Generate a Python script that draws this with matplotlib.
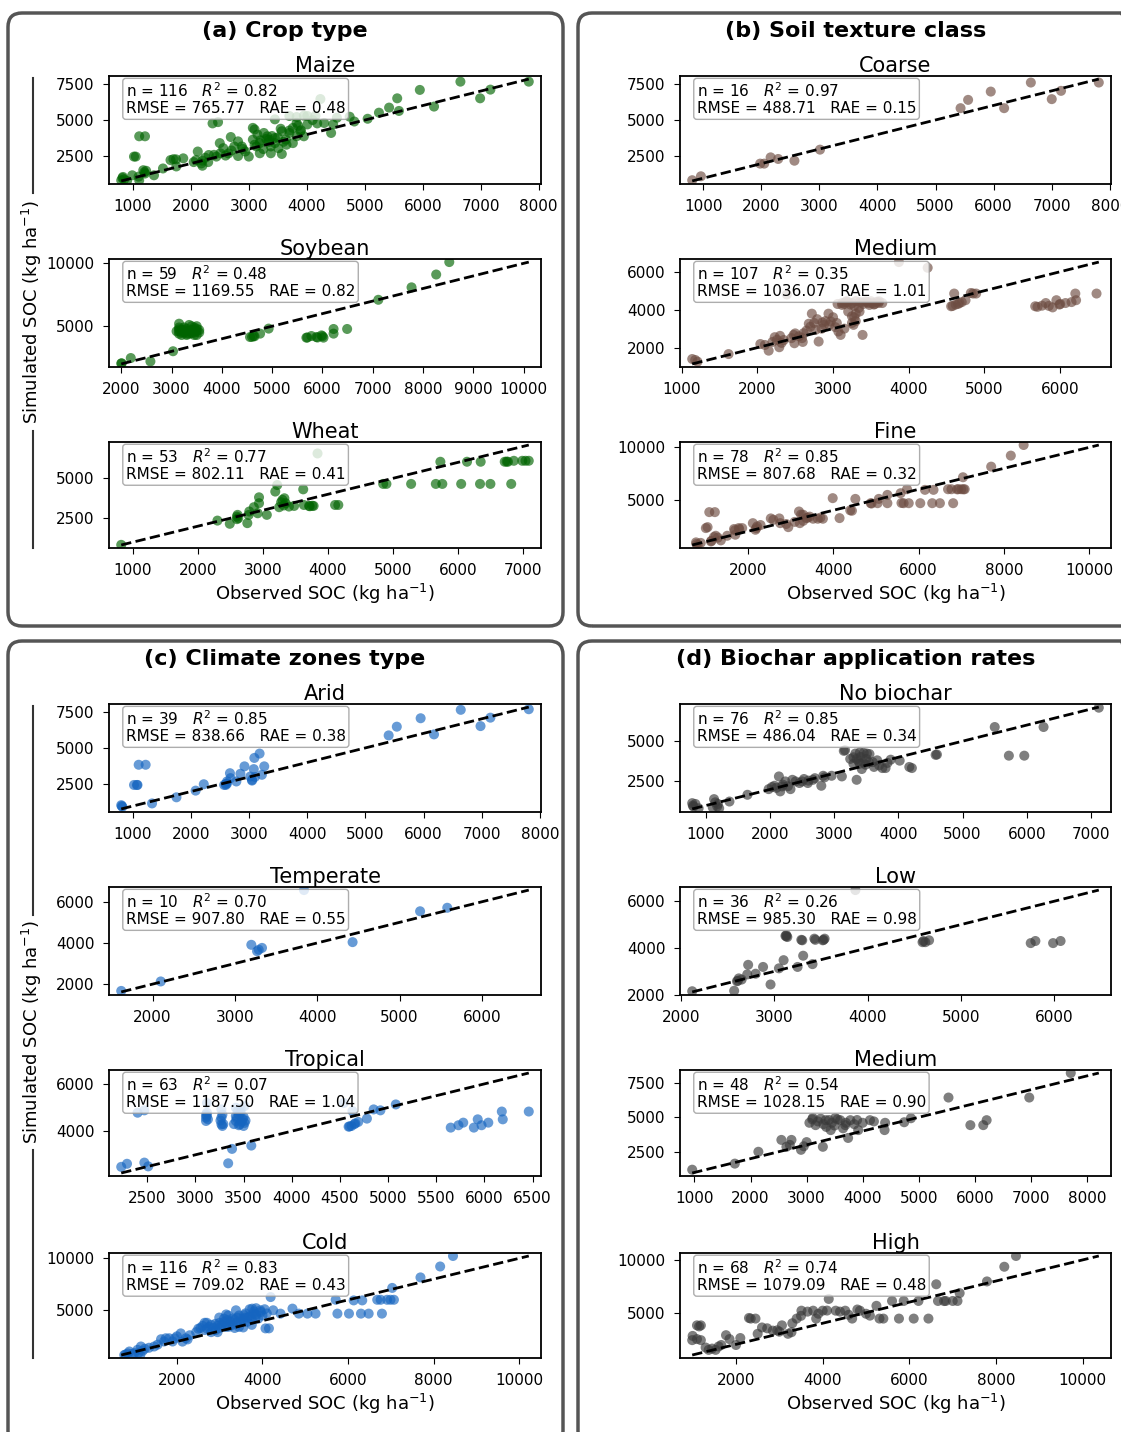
import numpy as np
import matplotlib.pyplot as plt
from matplotlib.patches import FancyBboxPatch
from matplotlib.lines import Line2D
from matplotlib.transforms import IdentityTransform

# observed vs simulated SOC (kg/ha) for each group, as (observed, simulated)
maize = [(800, 840), (820, 1000), (830, 1075), (850, 900), (990, 1190), (1020, 2480), (1050, 2480),
         (1110, 840), (1110, 3880), (1180, 1540), (1210, 1310), (1210, 3880), (1230, 1500), (1365, 1190),
         (1520, 1660), (1650, 2240), (1700, 2300), (1745, 2290), (1870, 2360), (2090, 2240), (2120, 2830),
         (2180, 2010), (2200, 1850), (2250, 2400), (2310, 2590), (2375, 4770), (2440, 2480), (2470, 4860),
         (2500, 3410), (2510, 2710), (2560, 3060), (2600, 2550), (2690, 3830), (2750, 3180), (2815, 3530),
         (2815, 2520), (2880, 3180), (2940, 2830), (3000, 2480), (3070, 4460), (3100, 4350), (3070, 3650),
         (3130, 3180), (3190, 2710), (3190, 3410), (3260, 4110), (3320, 3880), (3350, 3650), (3380, 3180),
         (3380, 2710), (3450, 3410), (3450, 3760), (3450, 5050), (3510, 3060), (3570, 4230), (3570, 2660),
         (3640, 3650), (3700, 4110), (3700, 4280), (3700, 5280), (3760, 3410), (3760, 4460), (3825, 3880),
         (3825, 5210), (3825, 4810), (3890, 4230), (3950, 3880), (4010, 4700), (4010, 5280), (4180, 4770),
         (4235, 6450), (4420, 4110), (4455, 4700), (4520, 5160), (4740, 5230), (4820, 4900), (5050, 5090),
         (5245, 5510), (5420, 5860), (5560, 6500), (5590, 5630), (5950, 7080), (6195, 5930), (6650, 7650),
         (6990, 6500), (7167, 7100), (7829, 7650), (3300, 3700), (3350, 3500), (3400, 3900), (3200, 3600),
         (3600, 3500), (2900, 3000), (3100, 3300), (3250, 3000), (3500, 3800), (3650, 3300), (2650, 2700),
         (2300, 2100), (2200, 2200), (1750, 1800), (1100, 1100), (900, 800), (1200, 1400), (3550, 4400),
         (3900, 4300), (3150, 4000), (2050, 2100), (2400, 2600), (2700, 2900), (4100, 5000), (4300, 4800),
         (3950, 5300), (4150, 5300), (3850, 4600)]

soybean = [(2000, 2040), (2190, 2470), (2580, 2200), (3030, 3010), (3150, 5200), (3150, 4900), (3150, 4600),
           (3150, 4400), (3200, 4700), (3250, 4500), (3300, 4800), (3300, 4300), (3350, 4600), (3400, 4700),
           (3450, 4500), (3450, 4900), (3500, 5000), (3500, 4600), (3500, 4300), (3550, 4700), (3200, 4300),
           (3250, 4900), (3350, 4400), (3400, 5000), (3100, 4600), (3300, 4600), (3450, 4300), (3550, 4500),
           (3250, 4700), (3400, 4450), (3150, 4750), (3500, 4800), (4560, 4140), (4630, 4220), (4760, 4410),
           (4930, 4810), (5680, 4090), (5780, 4220), (5880, 4140), (5980, 4270), (6020, 4090), (6220, 4410),
           (6220, 4780), (6490, 4780), (7110, 7100), (7770, 8090), (8260, 9110), (8520, 10100), (4600, 4150),
           (4650, 4200), (5700, 4100), (5900, 4100), (6000, 4200), (3200, 4500), (3350, 5100), (3450, 4700),
           (2010, 2050), (3300, 4400), (3400, 4600)]

wheat = [(820, 830), (2300, 2350), (2490, 2150), (2600, 2440), (2600, 2600), (2610, 2710), (2760, 2190),
         (2790, 2920), (2860, 3190), (2940, 3440), (2940, 3810), (2920, 2810), (3060, 2710), (3190, 4170),
         (3220, 4580), (3250, 3190), (3300, 3650), (3330, 3750), (3350, 3440), (3400, 3230), (3480, 3270),
         (3620, 4310), (3630, 3330), (3710, 3270), (3780, 3270), (3840, 6560), (4110, 3330), (4160, 3330),
         (4850, 4650), (4900, 4650), (5280, 4650), (5660, 4650), (5760, 4650), (5730, 6040), (6050, 4650),
         (6140, 6040), (6350, 6040), (6340, 4650), (6500, 4650), (6820, 4650), (6720, 6040), (6770, 6040),
         (6860, 6100), (6990, 6100), (7040, 6100), (7090, 6100), (2620, 2500), (2780, 2700), (3280, 3500),
         (3320, 3300), (3720, 3250), (3760, 3280), (6750, 6050)]

coarse = [(810, 860), (960, 1130), (1980, 2000), (2050, 2000), (2160, 2430), (2290, 2320), (2570, 2200),
          (3010, 2960), (5430, 5810), (5560, 6380), (5950, 6950), (6180, 5810), (6640, 7570), (7000, 6430),
          (7160, 7000), (7810, 7570)]

soil_medium = [(1140, 1400), (1210, 1260), (1620, 1660), (2040, 2190), (2100, 2140), (2150, 1840),
               (2230, 2550), (2260, 2410), (2300, 2620), (2290, 2020), (2480, 2670), (2490, 2230), (2590, 2500),
               (2610, 2760), (2680, 3260), (2720, 3790), (2770, 2940), (2790, 3500), (2810, 2320), (2860, 3330),
               (2880, 3200), (2940, 3790), (2970, 3380), (3030, 3080), (3070, 2850), (3100, 2670), (3120, 4350),
               (3160, 4390), (3230, 4270), (3250, 3650), (3270, 3200), (3300, 3790), (3340, 4090), (3390, 2670),
               (3430, 4440), (3470, 4350), (3520, 4350), (3540, 4270), (3610, 4440), (3650, 4350), (2390, 4800),
               (3870, 6510), (4250, 6210), (4560, 4180), (4600, 4850), (4620, 4270), (4670, 4350), (4750, 4500),
               (4820, 4880), (4890, 4850), (5670, 4180), (5760, 4210), (5810, 4350), (5900, 4120), (5950, 4500),
               (5990, 4270), (6070, 4350), (6200, 4850), (6210, 4500), (6480, 4850), (3150, 4300), (3200, 4400),
               (3250, 4350), (3300, 4450), (3350, 4400), (3400, 4300), (3450, 4400), (3500, 4450), (3550, 4300),
               (3600, 4350), (3120, 4250), (3180, 4450), (3280, 4200), (3380, 4380), (3480, 4250), (3580, 4420),
               (3200, 3900), (3280, 3600), (3300, 3400), (2650, 2900), (2550, 2600), (2450, 2500), (2350, 2400),
               (2700, 3100), (2850, 3000), (2900, 3400), (3000, 3600), (3050, 3300), (2600, 2300), (2500, 2750),
               (3150, 3000), (3350, 3900), (3250, 3300), (2200, 2300), (2320, 2250), (2750, 3300), (2950, 3200),
               (4580, 4200), (4650, 4300), (4700, 4400), (4850, 4850), (5700, 4150), (5850, 4200), (6000, 4300),
               (6150, 4400), (1180, 1350), (3060, 4300)]

fine = [(790, 950), (830, 700), (1020, 2310), (1060, 2400), (1100, 3830), (1230, 3830), (1140, 1040),
        (1210, 1460), (1250, 1580), (1370, 1140), (1520, 1580), (1680, 2220), (1710, 1680), (1790, 2310),
        (1870, 2310), (2120, 2780), (2180, 2150), (2220, 2470), (2540, 3230), (2740, 3230), (2760, 2780),
        (2950, 2400), (3200, 3890), (3220, 2780), (3300, 3580), (3370, 3260), (3530, 3200), (3640, 3200),
        (3760, 3200), (3990, 5160), (4150, 3260), (4440, 3960), (4520, 5090), (4880, 4680), (5070, 5090),
        (5270, 5470), (5580, 5630), (5730, 6010), (5040, 4680), (5270, 4680), (5650, 4680), (5770, 4680),
        (6040, 4680), (6320, 4680), (6500, 4680), (6810, 4680), (6150, 5950), (6350, 5950), (6690, 6010),
        (6770, 6010), (6930, 6010), (7000, 6010), (7080, 6010), (7040, 7150), (7700, 8160), (8160, 9210),
        (8460, 10220), (1150, 1100), (800, 800), (900, 900), (1700, 2100), (1800, 2200), (2200, 2300),
        (2300, 2600), (2600, 3100), (3250, 3600), (3400, 3300), (3450, 3400), (3700, 3300), (3300, 3000),
        (3100, 2900), (2900, 2700), (4400, 4000), (4900, 4650), (5600, 4700), (6900, 6000), (7050, 6000),
        (1300, 1400)]

arid = [(800, 1060), (820, 950), (1020, 2450), (1070, 2450), (1100, 3840), (1220, 3840), (1330, 1180),
        (1750, 1600), (2080, 2060), (2220, 2500), (2570, 2450), (2600, 2520), (2620, 2690), (2670, 3260),
        (2680, 2920), (2780, 2690), (2850, 3220), (2920, 3730), (3020, 3030), (3050, 2800), (3080, 3540),
        (3090, 4310), (3180, 4610), (3220, 3150), (3260, 3730), (5400, 5860), (5540, 6460), (5950, 7040),
        (6180, 5930), (6640, 7620), (6980, 6500), (7150, 7080), (7810, 7660), (810, 1000), (2600, 2450),
        (2620, 2550), (3100, 3000), (3050, 2750), (1080, 2450)]

temperate = [(1620, 1670), (2100, 2130), (3200, 3910), (3270, 3600), (3330, 3760), (3290, 3670),
             (3840, 6570), (4430, 4040), (5250, 5540), (5580, 5710)]

tropical = [(2230, 2490), (2290, 2620), (2470, 2670), (2510, 2510), (2400, 4780), (2470, 4880), (3110, 4570),
            (3110, 4430), (3120, 4780), (3270, 4920), (3270, 4570), (3270, 4290), (3280, 4220), (3420, 4990),
            (3420, 4640), (3420, 4430), (3460, 4290), (3470, 4780), (3490, 4500), (3500, 4220), (3470, 4920),
            (3510, 5060), (3120, 5190), (3380, 3250), (3580, 3390), (3340, 2640), (4540, 5190), (4630, 4850),
            (4590, 4190), (4620, 4220), (4660, 4330), (4690, 4390), (4780, 4530), (4850, 4920), (4920, 4880),
            (5080, 5130), (5650, 4150), (5730, 4250), (5780, 4360), (5890, 4150), (5930, 4500), (5970, 4250),
            (6040, 4360), (6180, 4830), (6190, 4500), (6460, 4830), (3120, 4650), (3130, 4500), (3260, 4450),
            (3280, 4700), (3400, 4300), (3430, 4550), (3450, 4700), (3480, 4400), (3500, 4600), (3510, 4350),
            (3440, 4850), (3520, 4450), (3110, 4700), (3290, 4300), (3450, 4250), (4600, 4200), (4650, 4300)]

cold = [(800, 750), (770, 700), (890, 1040), (1005, 880), (1080, 1200), (1160, 1520), (1145, 700),
        (1470, 1520), (1630, 2220), (1740, 2310), (1820, 2310), (2090, 2780), (2130, 1990), (2210, 2310),
        (2500, 3230), (2700, 3800), (2710, 3230), (2910, 3100), (2990, 4300), (3100, 3890), (3180, 4050),
        (3220, 3420), (3300, 4210), (3380, 5000), (3410, 4300), (3490, 3890), (3570, 4530), (3650, 4300),
        (3760, 5160), (3790, 4680), (3840, 4370), (3960, 4840), (4070, 3260), (4150, 3260), (4190, 6270),
        (4420, 4680), (4700, 5160), (4850, 4680), (5050, 4680), (5240, 4680), (5710, 6010), (5750, 4680),
        (6020, 4680), (6130, 5950), (6300, 4680), (6330, 5950), (6480, 4680), (6790, 4680), (6680, 6010),
        (6760, 6010), (6910, 6010), (6990, 6010), (7070, 6010), (7030, 7150), (7690, 8160), (8150, 9210),
        (8450, 10220), (2550, 3300), (2600, 3500), (2650, 3100), (2750, 3400), (2800, 3600), (2850, 3300),
        (2900, 3700), (2950, 3500), (3000, 3800), (3050, 3600), (3100, 4200), (3150, 3700), (3200, 4500),
        (3250, 3900), (3300, 3600), (3350, 4100), (3400, 3800), (3450, 4500), (3500, 4200), (3550, 4000),
        (3600, 4700), (3650, 3900), (3700, 4400), (3750, 4100), (3800, 4900), (3850, 4600), (3900, 4200),
        (3950, 5000), (4000, 4500), (4050, 5100), (4100, 4700), (4250, 5000), (3350, 3300), (3150, 3400),
        (2950, 2900), (2800, 2900), (2450, 2900), (2300, 2600), (2250, 2200), (2000, 2500), (1950, 2300),
        (1900, 2000), (1700, 2000), (1550, 1700), (1350, 1400), (1250, 1300), (1200, 1100), (1100, 900),
        (950, 800), (850, 850), (3450, 3400), (3550, 3350), (3750, 3600), (3600, 4300), (3000, 3300),
        (2650, 3800), (3150, 4600), (3700, 5100), (3850, 5200)]

no_biochar = [(790, 1150), (810, 940), (840, 1100), (890, 830), (1130, 1400), (1190, 1100), (1110, 880),
              (1210, 830), (1370, 1250), (1650, 1670), (1980, 2020), (2030, 2150), (2070, 2230), (2140, 2810),
              (2160, 1880), (2190, 2190), (2240, 2500), (2320, 2020), (2350, 2600), (2460, 2400), (2530, 2650),
              (2590, 2400), (2670, 2600), (2800, 2230), (2830, 2850), (2960, 2850), (3120, 2810), (3250, 3900),
              (3170, 4440), (3330, 4230), (3350, 2600), (3380, 3750), (3410, 4020), (3430, 3270), (3460, 4270),
              (3510, 4230), (3490, 3540), (3540, 3690), (3620, 3400), (3670, 3810), (3750, 3330), (3800, 3330),
              (3830, 3650), (3880, 3850), (4020, 3790), (4170, 3400), (4210, 3330), (4600, 4170), (5500, 5880),
              (5720, 4100), (5960, 4100), (6260, 5880), (7120, 7080), (800, 1000), (1150, 1200), (1180, 950),
              (2100, 2100), (2200, 2300), (2280, 2200), (2400, 2500), (2500, 2500), (2700, 2700), (3300, 3600),
              (3350, 3900), (3400, 3600), (3450, 3700), (3500, 3900), (3550, 4200), (3600, 3700), (3700, 3500),
              (3150, 4400), (3300, 4000), (3400, 4300), (4580, 4150), (2600, 2550), (2850, 2750)]

low = [(2120, 2150), (2570, 2170), (2600, 2580), (2620, 2700), (2720, 3280), (2710, 2870), (2800, 2900),
       (2880, 3190), (2960, 2440), (3050, 3130), (3100, 3480), (3130, 4550), (3140, 4470), (3300, 4330),
       (3310, 3670), (3250, 3190), (3410, 3310), (3430, 4400), (3520, 4330), (3540, 4400), (3870, 6480),
       (4590, 4250), (4620, 4250), (4660, 4330), (5750, 4210), (5800, 4300), (5990, 4210), (6070, 4300),
       (2610, 2600), (3130, 4500), (3290, 4350), (3530, 4350), (4600, 4300), (3440, 4350), (2650, 2650),
       (3120, 4520)]

biochar_medium = [(960, 1200), (1720, 1640), (2140, 2500), (2550, 3360), (2640, 2860), (2730, 3360),
                  (2900, 2640), (3110, 4950), (3160, 4430), (3340, 4790), (3430, 4070), (3510, 4950),
                  (3600, 4790), (3690, 4430), (3780, 4790), (3920, 4070), (4130, 4790), (3740, 3500),
                  (3290, 2860), (4390, 4070), (4740, 4640), (4860, 4930), (5530, 6430), (5920, 4430),
                  (6210, 4790), (6150, 4430), (6970, 6430), (7710, 8210), (3050, 4600), (3100, 4850),
                  (3200, 4700), (3250, 4900), (3300, 4500), (3350, 4300), (3400, 4800), (3450, 4600),
                  (3500, 4400), (3550, 4850), (3650, 4200), (3700, 4600), (3850, 4500), (3900, 4800),
                  (4000, 4600), (4200, 4700), (4400, 4600), (2950, 2900), (3000, 3200), (2700, 3000)]

high = [(990, 2400), (1100, 3800), (1190, 3800), (1190, 2400), (1370, 1480), (1530, 1480), (1660, 1940),
        (1770, 2870), (2000, 1940), (2340, 4440), (2450, 4440), (2720, 3520), (2950, 3330), (3060, 3800),
        (3280, 3150), (3400, 4440), (3510, 5190), (3780, 5190), (3850, 4440), (4000, 5190), (4140, 6300),
        (4300, 5190), (4520, 5190), (4680, 4440), (4860, 5190), (5090, 4720), (5240, 5650), (5310, 4440),
        (5600, 6110), (5760, 4440), (5870, 6110), (6100, 4440), (6210, 6110), (6440, 4440), (6620, 7690),
        (6660, 6110), (6840, 6110), (7000, 6110), (7110, 6110), (7160, 6850), (7790, 7960), (8190, 9350),
        (8460, 10370), (1000, 2800), (1100, 2500), (1150, 3700), (1300, 1700), (1450, 1600), (1600, 1800),
        (1850, 2500), (2100, 2600), (2300, 4500), (2500, 3000), (2600, 3600), (2850, 3300), (3000, 3200),
        (3200, 3000), (3300, 4000), (3500, 4700), (3650, 5100), (3900, 4900), (4100, 5200), (4400, 5100),
        (4600, 4800), (4800, 5300), (5000, 4900), (5400, 4440), (6800, 6100)]

# reported statistics: n, R2, RMSE, RAE
crop_titles = ['Maize', 'Soybean', 'Wheat']
crop_stats = [(116, 0.82, 765.77, 0.48), (59, 0.48, 1169.55, 0.82), (53, 0.77, 802.11, 0.41)]
soil_titles = ['Coarse', 'Medium', 'Fine']
soil_stats = [(16, 0.97, 488.71, 0.15), (107, 0.35, 1036.07, 1.01), (78, 0.85, 807.68, 0.32)]
climate_titles = ['Arid', 'Temperate', 'Tropical', 'Cold']
climate_stats = [(39, 0.85, 838.66, 0.38), (10, 0.70, 907.80, 0.55), (63, 0.07, 1187.50, 1.04),
                 (116, 0.83, 709.02, 0.43)]
biochar_titles = ['No biochar', 'Low', 'Medium', 'High']
biochar_stats = [(76, 0.85, 486.04, 0.34), (36, 0.26, 985.30, 0.98), (48, 0.54, 1028.15, 0.90),
                 (68, 0.74, 1079.09, 0.48)]

W, H = 1121, 1432
fig = plt.figure(figsize=(W / 100, H / 100), dpi=100)
fig.patch.set_facecolor('white')

XLAB = 'Observed SOC (kg ha$^{-1}$)'
YLAB = 'Simulated SOC (kg ha$^{-1}$)'


def draw_sub(left, top, right, bottom, pts, color, title, stats, xlabel=False):
    ax = fig.add_axes([left / W, 1 - bottom / H, (right - left) / W, (bottom - top) / H])
    obs, sim = np.array(pts, dtype=float).T
    lo = min(obs.min(), sim.min())
    hi = max(obs.max(), sim.max())
    pad = 0.03 * (hi - lo)
    ax.scatter(obs, sim, s=52, color=color, alpha=0.65, edgecolors='none', zorder=2)
    ax.plot([lo, hi], [lo, hi], 'k--', lw=2, zorder=3)
    ax.set_xlim(lo - pad, hi + pad)
    ax.set_ylim(lo - pad, hi + pad)
    n, r2, rmse, rae = stats
    txt = f'n = {n}   $R^2$ = {r2:.2f}\nRMSE = {rmse:.2f}   RAE = {rae:.2f}'
    ax.text(0.039, 0.95, txt, transform=ax.transAxes, ha='left', va='top', fontsize=11,
            linespacing=1.1,
            bbox=dict(boxstyle='round,pad=0.2,rounding_size=0.2', fc='white', ec='0.6', alpha=0.8),
            zorder=5)
    ax.set_title(title, fontsize=15, pad=1)
    ax.tick_params(labelsize=11, length=4.5, pad=6)
    for s in ax.spines.values():
        s.set_linewidth(1.3)
    if xlabel:
        ax.set_xlabel(XLAB, fontsize=13, labelpad=3)
    return ax


def panel_box(x0, y0, x1, y1):
    box = FancyBboxPatch((x0, H - y1), x1 - x0, y1 - y0,
                         boxstyle='round,pad=0,rounding_size=14',
                         transform=IdentityTransform(), fc='none', ec='#555555', lw=2.5, zorder=0)
    fig.add_artist(box)


def side_label(yc, ytop, ybot, gap_top, gap_bot):
    fig.text(32 / W, 1 - yc / H, YLAB, rotation=90, ha='center', va='center', fontsize=13)
    for a, b in [(ytop, gap_top), (gap_bot, ybot)]:
        fig.add_artist(Line2D([33 / W, 33 / W], [1 - a / H, 1 - b / H], transform=fig.transFigure,
                              color='#333333', lw=1.5))


# panel frames
panel_box(8, 13, 563, 626)
panel_box(578, 13, 1135, 626)
panel_box(8, 641, 563, 1445)
panel_box(578, 641, 1135, 1445)

fig.text(285 / W, 1 - 31 / H, '(a) Crop type', ha='center', va='center', fontsize=16, weight='bold')
fig.text(856 / W, 1 - 31 / H, '(b) Soil texture class', ha='center', va='center', fontsize=16, weight='bold')
fig.text(285 / W, 1 - 659 / H, '(c) Climate zones type', ha='center', va='center', fontsize=16, weight='bold')
fig.text(856 / W, 1 - 659 / H, '(d) Biochar application rates', ha='center', va='center', fontsize=16,
         weight='bold')

rows_top = [(76, 184), (259, 367), (442, 548)]
rows_bot = [(704, 812), (887, 995), (1070, 1176), (1253, 1358)]
LX = (109, 541)
RX = (680, 1111)

green, brown, blue, grey = '#006400', '#6d4c41', '#1565c0', '#3a3a3a'

for i, pts in enumerate([maize, soybean, wheat]):
    draw_sub(LX[0], rows_top[i][0], LX[1], rows_top[i][1], pts, green, crop_titles[i], crop_stats[i],
             xlabel=(i == 2))
for i, pts in enumerate([coarse, soil_medium, fine]):
    draw_sub(RX[0], rows_top[i][0], RX[1], rows_top[i][1], pts, brown, soil_titles[i], soil_stats[i],
             xlabel=(i == 2))
for i, pts in enumerate([arid, temperate, tropical, cold]):
    draw_sub(LX[0], rows_bot[i][0], LX[1], rows_bot[i][1], pts, blue, climate_titles[i], climate_stats[i],
             xlabel=(i == 3))
for i, pts in enumerate([no_biochar, low, biochar_medium, high]):
    draw_sub(RX[0], rows_bot[i][0], RX[1], rows_bot[i][1], pts, grey, biochar_titles[i], biochar_stats[i],
             xlabel=(i == 3))

side_label(312, 78, 548, 193, 431)
side_label(1032, 706, 1358, 915, 1150)

fig.savefig('out.png', dpi=100)
